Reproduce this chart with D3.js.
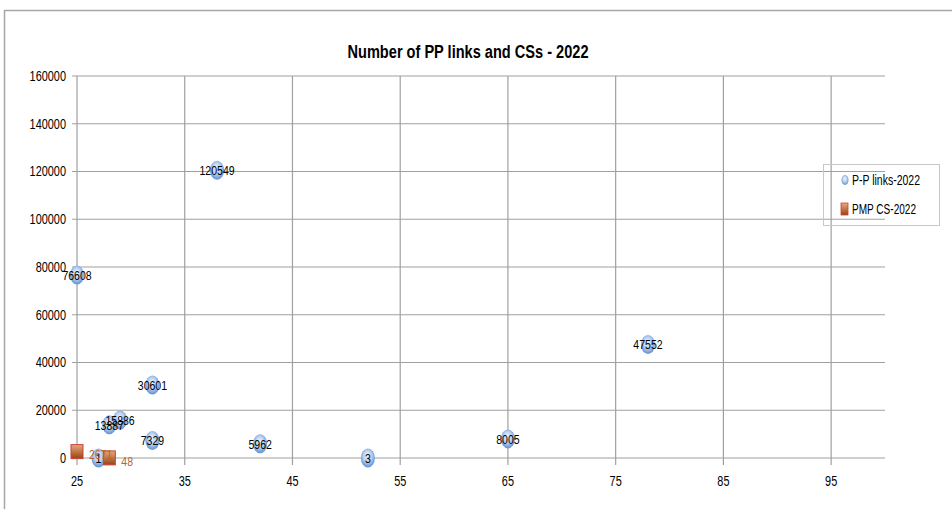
<!DOCTYPE html>
<html>
<head>
<meta charset="utf-8">
<script src="https://cdn.jsdelivr.net/npm/d3@7"></script>
<style>
  body { margin: 0; background: #fff; }
  svg text { font-family: "Liberation Sans", Arial, sans-serif; }
</style>
</head>
<body>
<svg id="chart" width="952" height="509"></svg>
<script>
// Series: P-P links 2022 (x, count)
const ppX = [25, 38, 32, 28, 29, 32, 42, 52, 65, 78, 27];
const ppY = [76608, 120549, 30601, 13887, 15886, 7329, 5962, 3, 8005, 47552, 1];
// Series: PMP CS 2022
const pmpX = [25, 28];
const pmpY = [2671, 48];
const xTicks = [25, 35, 45, 55, 65, 75, 85, 95];
const yTicks = [0, 20000, 40000, 60000, 80000, 100000, 120000, 140000, 160000];
const seriesNames = ["P-P links-2022", "PMP CS-2022"];

const svg = d3.select("#chart");
const plotL = 77, plotR = 885, plotT = 76, plotB = 458;
const x = d3.scaleLinear().domain([25, 100]).range([plotL, plotR]);
const y = d3.scaleLinear().domain([0, 160000]).range([plotB, plotT]);
const SQUEEZE = 0.78; // narrow lettering

// places condensed text at (px, py)
function place(sel, px, py) {
  return sel.attr("transform", (d, i) =>
    `translate(${typeof px === "function" ? px(d, i) : px},${typeof py === "function" ? py(d, i) : py}) scale(${SQUEEZE},1)`);
}

// chart frame
svg.append("path").attr("d", "M4.5,509 V10.5 H952")
  .attr("fill", "none").attr("stroke", "#a6a6a6").attr("stroke-width", 1.5);

const defs = svg.append("defs");
const bub = defs.append("radialGradient").attr("id", "bub").attr("cx", "50%").attr("cy", "45%").attr("r", "55%").attr("fx", "45%").attr("fy", "35%");
bub.append("stop").attr("offset", "0%").attr("stop-color", "#f2f7fd");
bub.append("stop").attr("offset", "55%").attr("stop-color", "#b7cff0");
bub.append("stop").attr("offset", "100%").attr("stop-color", "#5f8fd3");
const sq = defs.append("linearGradient").attr("id", "sq").attr("x1", 0).attr("y1", 0).attr("x2", 0).attr("y2", 1);
sq.append("stop").attr("offset", "0%").attr("stop-color", "#eaa77a");
sq.append("stop").attr("offset", "100%").attr("stop-color", "#984414");

// gridlines
const grid = svg.append("g").attr("stroke", "#a0a0a0").attr("stroke-width", 1.2);
yTicks.forEach(t => {
  grid.append("line").attr("x1", plotL - 5).attr("x2", plotR)
    .attr("y1", y(t)).attr("y2", y(t));
});
xTicks.forEach(t => {
  grid.append("line").attr("x1", x(t)).attr("x2", x(t))
    .attr("y1", plotT).attr("y2", plotB + 7);
});

// axis labels
place(svg.append("g").selectAll("text").data(yTicks).join("text"), plotL - 11, d => y(d))
  .attr("dy", "0.35em").attr("text-anchor", "end").attr("font-size", 14).attr("fill", "#000")
  .text(d => d);
place(svg.append("g").selectAll("text").data(xTicks).join("text"), d => x(d), 481)
  .attr("dy", "0.35em").attr("text-anchor", "middle").attr("font-size", 14).attr("fill", "#000")
  .text(d => d);

// title
svg.append("text").attr("x", 468).attr("y", 52).attr("dy", "0.35em")
  .attr("text-anchor", "middle").attr("font-size", 18).attr("font-weight", "bold")
  .attr("textLength", 241).attr("lengthAdjust", "spacingAndGlyphs")
  .text("Number of PP links and CSs - 2022");

const pp = ppX.map((v, i) => ({ x: v, y: ppY[i] }));
const pmp = pmpX.map((v, i) => ({ x: v, y: pmpY[i] }));

// P-P bubbles
svg.append("g").selectAll("ellipse").data(pp).join("ellipse")
  .attr("cx", d => x(d.x)).attr("cy", d => y(d.y))
  .attr("rx", 7).attr("ry", 9.5).attr("fill", "url(#bub)");

// PMP squares
svg.append("g").selectAll("rect").data(pmp).join("rect")
  .attr("x", d => x(d.x) - 6).attr("y", d => y(d.y) - 7)
  .attr("width", 12).attr("height", 14)
  .attr("fill", "url(#sq)").attr("stroke", "#c9433a").attr("stroke-width", 1);

// value labels
place(svg.append("g").selectAll("text").data(pp).join("text"), d => x(d.x), d => y(d.y))
  .attr("dy", "0.35em").attr("text-anchor", "middle").attr("font-size", 13.5).attr("fill", "#000")
  .text(d => d.y);
place(svg.append("g").selectAll("text").data(pmp).join("text"), d => x(d.x) + 12, d => y(d.y) + 3)
  .attr("dy", "0.35em").attr("text-anchor", "start").attr("font-size", 13.5).attr("fill", "#b8652a")
  .text(d => d.y);

// legend
const lg = svg.append("g");
lg.append("rect").attr("x", 823.5).attr("y", 164.5).attr("width", 116).attr("height", 61)
  .attr("fill", "none").attr("stroke", "#c8c8c8");
lg.append("ellipse").attr("cx", 845).attr("cy", 180).attr("rx", 3.5).attr("ry", 5).attr("fill", "url(#bub)");
lg.append("rect").attr("x", 841).attr("y", 203).attr("width", 7).attr("height", 12)
  .attr("fill", "url(#sq)").attr("stroke", "#c9433a").attr("stroke-width", 0.8);
const legendW = [68, 64];
lg.selectAll("text.l").data(seriesNames).join("text").attr("class", "l")
  .attr("x", 852).attr("y", (d, i) => 180 + i * 29).attr("dy", "0.35em")
  .attr("font-size", 14).attr("fill", "#000")
  .attr("textLength", (d, i) => legendW[i]).attr("lengthAdjust", "spacingAndGlyphs")
  .text(d => d);
</script>
</body>
</html>
